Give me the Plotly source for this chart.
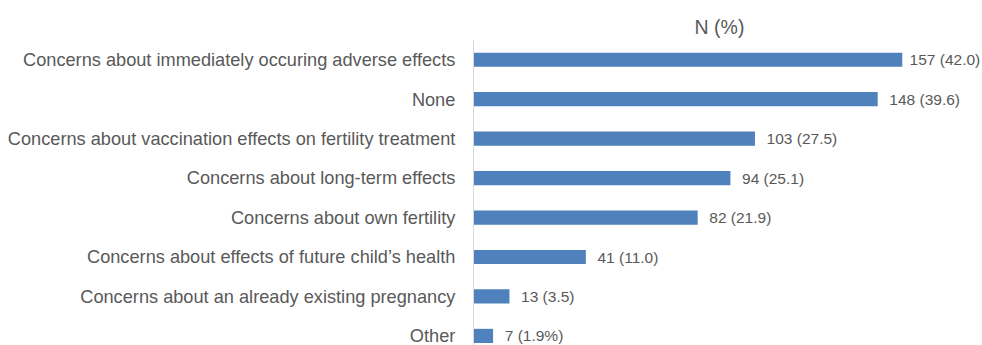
import plotly.graph_objects as go

categories = [
    "Concerns about immediately occuring adverse effects",
    "None",
    "Concerns about vaccination effects on fertility treatment",
    "Concerns about long-term effects",
    "Concerns about own fertility",
    "Concerns about effects of future child’s health",
    "Concerns about an already existing pregnancy",
    "Other",
]
counts = [157, 148, 103, 94, 82, 41, 13, 7]
percents = ["42.0", "39.6", "27.5", "25.1", "21.9", "11.0", "3.5", "1.9%"]
labels = [f"{n} ({p})" for n, p in zip(counts, percents)]
# a little extra breathing room before labels, as in the original (first one sits closer)
labels = [("\u00a0" if i == 0 else "\u00a0\u00a0") + t for i, t in enumerate(labels)]

fig = go.Figure(go.Bar(
    x=counts,
    y=categories,
    orientation="h",
    marker=dict(color="#4f81bd", line=dict(width=0)),
    text=labels,
    textposition="outside",
    textfont=dict(size=15.5, color="#595959", family="Liberation Sans, Arial, sans-serif"),
    constraintext="none",
    cliponaxis=False,
))

fig.update_layout(
    width=982,
    height=345,
    margin=dict(l=474, r=17, t=40, b=0),
    paper_bgcolor="white",
    plot_bgcolor="white",
    bargap=0.64,
    showlegend=False,
    font=dict(family="Liberation Sans, Arial, sans-serif", color="#595959"),
    title=dict(
        text="N (%)",
        x=0.5,
        xref="paper",
        xanchor="center",
        y=1 - 27 / 345,
        yref="container",
        yanchor="middle",
        font=dict(size=19.5, color="#595959"),
    ),
    xaxis=dict(
        range=[0, 180],
        showticklabels=False,
        showgrid=False,
        zeroline=False,
        showline=False,
        ticks="",
    ),
    yaxis=dict(
        categoryorder="array",
        categoryarray=categories,
        range=[7.23, -0.5],
        showline=True,
        linecolor="#d9d9d9",
        linewidth=1,
        showgrid=False,
        ticks="",
        ticklabelstandoff=14,
        tickfont=dict(size=18.2, color="#595959"),
    ),
)

fig.write_html("out.html")
